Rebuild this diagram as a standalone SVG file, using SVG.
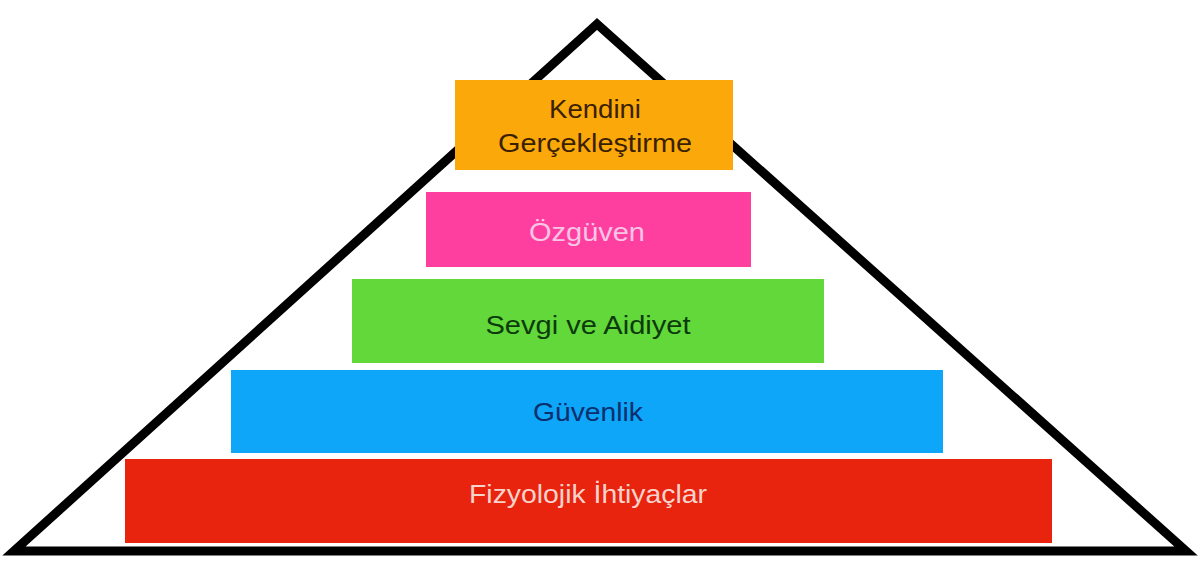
<svg xmlns="http://www.w3.org/2000/svg" width="1200" height="565" viewBox="0 0 1200 565">
<style>
.t{font-family:"Liberation Sans",Arial,sans-serif;font-size:26px;text-anchor:middle}
</style>
<rect width="1200" height="565" fill="#ffffff"/>
<g id="pyramid">
<polygon points="597,24 14,551 1186,551" fill="none" stroke="#000" stroke-width="9" stroke-linejoin="miter"/>
</g>
<g id="fizyolojik">
<rect x="125" y="459" width="927" height="84" fill="#E8230E"/>
<text class="t" x="588" y="503" fill="#F8D3CB" textLength="238" lengthAdjust="spacingAndGlyphs">Fizyolojik İhtiyaçlar</text>
</g>
<g id="guvenlik">
<rect x="231" y="370" width="712" height="83" fill="#0DA6F8"/>
<text class="t" x="588" y="421" fill="#0B2E6E" textLength="110" lengthAdjust="spacingAndGlyphs">Güvenlik</text>
</g>
<g id="sevgi">
<rect x="352" y="279" width="472" height="84" fill="#62D83A"/>
<text class="t" x="588" y="334" fill="#0C3A0C" textLength="205" lengthAdjust="spacingAndGlyphs">Sevgi ve Aidiyet</text>
</g>
<g id="ozguven">
<rect x="426" y="192" width="325" height="75" fill="#FF3F9F"/>
<text class="t" x="587" y="241" fill="#F7C5E5" textLength="116" lengthAdjust="spacingAndGlyphs">Özgüven</text>
</g>
<g id="kendini">
<rect x="455" y="80" width="278" height="90" fill="#FBA90A"/>
<text class="t" x="595" y="118" fill="#3A1F00" textLength="92" lengthAdjust="spacingAndGlyphs">Kendini</text>
<text class="t" x="595" y="152" fill="#3A1F00" textLength="194" lengthAdjust="spacingAndGlyphs">Gerçekleştirme</text>
</g>
</svg>
